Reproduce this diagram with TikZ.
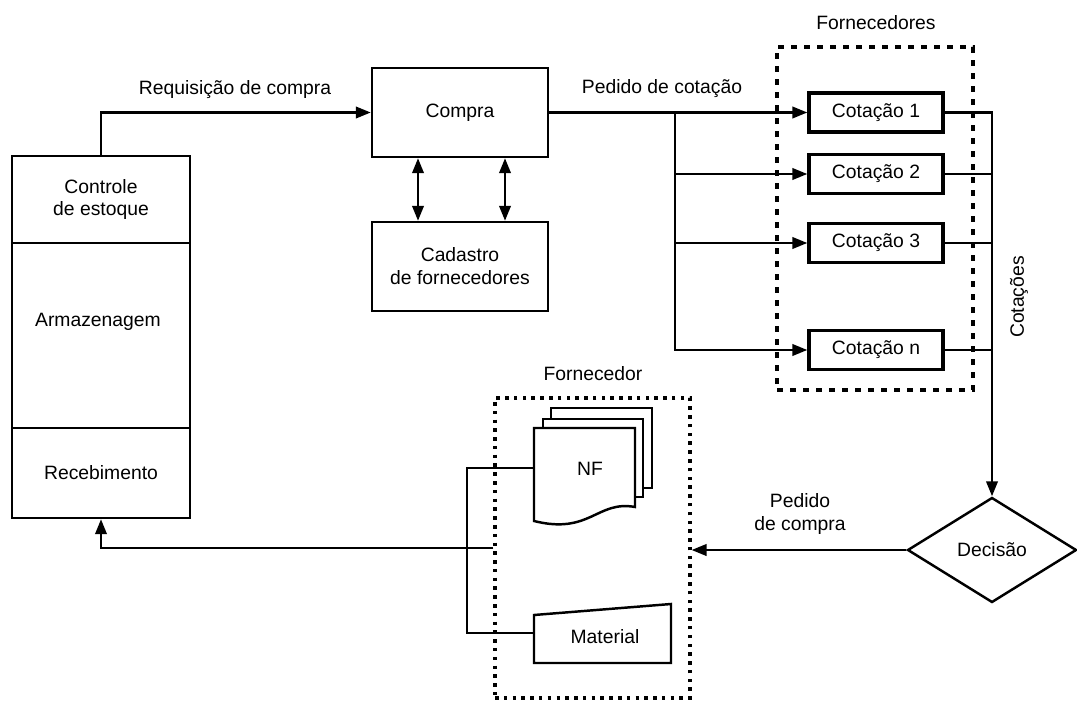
\documentclass[tikz,border=0pt]{standalone}
\usepackage{fontspec}
\setmainfont{Liberation Sans}
\usetikzlibrary{arrows.meta,shapes.geometric}
\def\px{0.02cm}
\begin{document}
\begin{tikzpicture}[x=0.02cm,y=-0.02cm,
  font=\fontsize{11}{13}\selectfont,
  every node/.style={inner sep=0pt},
  box/.style={draw,line width=1.4pt,rectangle,align=center},
  cot/.style={draw,line width=1.9pt,rectangle,minimum width={134*\px},minimum height={39*\px}},
  ln/.style={line width=1.4pt},
  arr/.style={ln,-{Triangle[length=8.5pt,width=6.5pt]}},
  darr/.style={ln,{Triangle[length=8.5pt,width=6.5pt]}-{Triangle[length=8.5pt,width=6.5pt]}},
  dashbox/.style={draw,line width=1.8pt,dash pattern=on 3.6pt off 3.8pt},
  dotbox/.style={draw,line width=1.8pt,dash pattern=on 2pt off 3pt},
  lbl/.style={align=center}]
\useasboundingbox (0,0) rectangle (1077,702);

% left column
\node[box,minimum width={178*\px},minimum height={87*\px}] (ctrl) at (101,199.5) {Controle\\de estoque};
\node[box,minimum width={178*\px},minimum height={185*\px}] (arm) at (101,335.5) {};
\node[lbl] (armtxt) at (98,322) {Armazenagem};
\node[box,minimum width={178*\px},minimum height={90*\px}] (rec) at (101,473) {Recebimento};

% compra / cadastro
\node[box,minimum width={176*\px},minimum height={89*\px}] (compra) at (460,112.5) {Compra};
\node[box,minimum width={176*\px},minimum height={89*\px}] (cad) at (460,266.5) {Cadastro\\de fornecedores};

% fornecedores
\node[dashbox,minimum width={196*\px},minimum height={343*\px}] (forns) at (875,218.5) {};
\node[lbl] (fornslbl) at (876,23) {Fornecedores};
\node[cot] (c1) at (876,112.5) {Cotação 1};
\node[cot] (c2) at (876,174) {Cotação 2};
\node[cot] (c3) at (876,243) {Cotação 3};
\node[cot] (cn) at (876,350) {Cotação n};

% decisao
\node[draw,line width=1.4pt,diamond,minimum width={169*\px},minimum height={105*\px}] (dec) at (992,550) {Decisão};

% fornecedor box
\node[dotbox,minimum width={195*\px},minimum height={300*\px}] (fbox) at (592.5,548) {};
\node[lbl] (fboxlbl) at (593,374) {Fornecedor};

% NF document stack
\draw[line width=1.4pt,fill=white] (551,408) rectangle (652,488);
\draw[line width=1.4pt,fill=white] (543,419) rectangle (643,497);
\draw[line width=1.4pt,fill=white] (534,428) -- (635,428) -- (635,507)
   .. controls (597,500) and (590,535) .. (534,521) -- cycle;
\node (nf) at (590,469) {NF};
\coordinate (nfL) at (534,468);

% Material
\draw[line width=1.4pt] (534,615) -- (671,604) -- (671,663) -- (534,663) -- cycle;
\node (mat) at (605,637) {Material};
\coordinate (matL) at (534,633);
\coordinate (jn) at (467,468);

% connectors
\draw[arr] (ctrl.north) |- (compra.west);
\node[lbl] (req) at (235,90) {Requisição de compra};
\draw[darr] ([xshift={-42*\px}]compra.south) -- ([xshift={-42*\px}]cad.north);
\draw[darr] ([xshift={45*\px}]compra.south) -- ([xshift={45*\px}]cad.north);

\coordinate (br) at (675,112.5);
\draw[arr] (compra.east) -- (c1.west);
\node[lbl] (pcot) at (662,89) {Pedido de cotação};
\draw[arr] (br) |- (cn.west);
\draw[arr] (br |- c2.west) -- (c2.west);
\draw[arr] (br |- c3.west) -- (c3.west);

\draw[arr] (c1.east) -| (dec.north);
\draw[ln] (c2.east) -- (c2.east -| dec.north);
\draw[ln] (c3.east) -- (c3.east -| dec.north);
\draw[ln] (cn.east) -- (cn.east -| dec.north);
\node[rotate=90] (cots) at (1019,297) {Cotações};

\draw[arr] (dec.west) -- (dec.west -| fbox.east);
\node[lbl] (pcomp) at (800,514) {Pedido\\de compra};

\draw[ln] (nfL) -- (jn) |- (matL);
\draw[arr] (fbox.west) -| (rec.south);
\end{tikzpicture}
\end{document}
